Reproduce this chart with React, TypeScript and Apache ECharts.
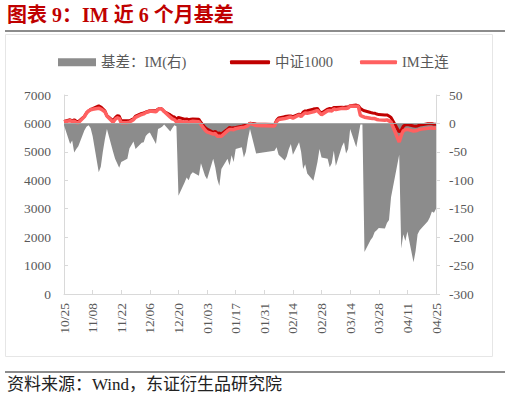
import React, { useEffect, useRef } from "react";
import * as echarts from "echarts";

// ---- data ----
const startDate = [2024, 9, 25]; // 2024-10-25
const calendarDays = 183; // through 2025-04-25

const tradingDates = [
  "10/25", "10/28", "10/29", "10/30", "10/31",
  "11/01", "11/04", "11/05", "11/06", "11/07", "11/08", "11/11", "11/12", "11/13", "11/14", "11/15", "11/18", "11/19", "11/20", "11/21", "11/22", "11/25", "11/26", "11/27", "11/28", "11/29",
  "12/02", "12/03", "12/04", "12/05", "12/06", "12/09", "12/10", "12/11", "12/12", "12/13", "12/16", "12/17", "12/18", "12/19", "12/20", "12/23", "12/24", "12/25", "12/26", "12/27", "12/30", "12/31",
  "01/02", "01/03", "01/06", "01/07", "01/08", "01/09", "01/10", "01/13", "01/14", "01/15", "01/16", "01/17", "01/20", "01/21", "01/22", "01/23", "01/24", "01/27",
  "02/05", "02/06", "02/07", "02/10", "02/11", "02/12", "02/13", "02/14", "02/17", "02/18", "02/19", "02/20", "02/21", "02/24", "02/25", "02/26", "02/27", "02/28",
  "03/03", "03/04", "03/05", "03/06", "03/07", "03/10", "03/11", "03/12", "03/13", "03/14", "03/17", "03/18", "03/19", "03/20", "03/21", "03/24", "03/25", "03/26", "03/27", "03/28", "03/31",
  "04/01", "04/02", "04/03", "04/07", "04/08", "04/09", "04/10", "04/11", "04/14", "04/15", "04/16", "04/17", "04/18", "04/21", "04/22", "04/23", "04/24", "04/25",
];

const basisIM = [
  -3, -36, -30, -51, -45,
  -40, -12, -6, -3, -8, -22, -86, -76, -50, -28, -10, -50, -62, -70, -78, -68, -62, -44, -38, -32, -45,
  -34, -33, -22, -18, -16, -36, -10, -8, -6, -2, -14, -8, -3, -5, -127, -104, -95, -100, -90, -86, -92, -70,
  -92, -98, -62, -77, -98, -110, -80, -62, -74, -56, -68, -45, -42, -60, -50, -27, -10, -53,
  -48, -42, -55, -65, -58, -45, -36, -55, -33, -50, -80, -72, -88, -101, -85, -68, -45, -60,
  -62, -77, -70, -48, -75, -40, -33, -53, -45, -10, -42, -22, -2, -2, -226, -205, -200, -191, -188, -184, -185,
  -175, -170, -130, -55, -220, -195, -207, -190, -244, -225, -195, -188, -184, -172, -165, -155, -157, -150,
];

const csi1000 = [
  6070, 6130, 6095, 6130, 6080,
  6060, 6250, 6370, 6440, 6490, 6520, 6620, 6580, 6510, 6440, 6270, 6095, 6200, 6270, 6260, 6090, 6095, 6090, 6130, 6160, 6260,
  6350, 6370, 6400, 6420, 6450, 6445, 6500, 6530, 6500, 6420, 6300, 6250, 6230, 6150, 6210, 6150, 6160, 6130, 6150, 6160, 6150, 6030,
  5860, 5800, 5685, 5720, 5650, 5660, 5630, 5800, 5860, 5840, 5850, 5860, 5900, 5920, 5940, 5950, 6010, 5980,
  5960, 6110, 6190, 6240, 6250, 6260, 6260, 6240, 6330, 6295, 6400, 6440, 6445, 6505, 6520, 6530, 6420, 6365,
  6505, 6530, 6510, 6560, 6560, 6570, 6560, 6580, 6585, 6620, 6645, 6620, 6530, 6480, 6445, 6385, 6370, 6360, 6330, 6310, 6300,
  6300, 6260, 6210, 5700, 5760, 5900, 5950, 5960, 5910, 5900, 5910, 5940, 5950, 5990, 5990, 5990, 5970, 5975,
];

const imMain = [
  6060, 6095, 6065, 6080, 6035,
  6020, 6240, 6365, 6435, 6480, 6500, 6535, 6505, 6460, 6410, 6260, 6045, 6140, 6200, 6180, 6020, 6035, 6045, 6090, 6130, 6215,
  6315, 6335, 6380, 6400, 6435, 6410, 6490, 6520, 6495, 6420, 6220, 6160, 6135, 6055, 6085, 6045, 6065, 6030, 6060, 6075, 6060, 5960,
  5770, 5700, 5625, 5645, 5550, 5550, 5550, 5740, 5785, 5785, 5780, 5815, 5860, 5860, 5890, 5925, 6000, 5925,
  5910, 6070, 6135, 6175, 6190, 6215, 6225, 6185, 6295, 6245, 6320, 6370, 6355, 6405, 6435, 6460, 6375, 6305,
  6445, 6455, 6440, 6510, 6485, 6530, 6525, 6525, 6540, 6610, 6600, 6600, 6280, 6250, 6220, 6180, 6170, 6170, 6140, 6125, 6115,
  6125, 6090, 6050, 5345, 5580, 5740, 5780, 5790, 5730, 5740, 5760, 5790, 5800, 5830, 5840, 5840, 5830, 5835,
];

const seriesNames = ["基差：IM(右)", "中证1000", "IM主连"];
const titleText = "图表 9：IM 近 6 个月基差";
const sourceText = "资料来源：Wind，东证衍生品研究院";

// ---- helpers ----
const pad = (n: number) => (n < 10 ? "0" + n : "" + n);
const categories: string[] = [];
for (let i = 0; i < calendarDays; i++) {
  const d = new Date(startDate[0], startDate[1], startDate[2] + i);
  categories.push(pad(d.getMonth() + 1) + "/" + pad(d.getDate()));
}
const pairs = (vals: number[]) => tradingDates.map((t, i) => [t, vals[i]]);

const FONT = "'Liberation Serif', 'Noto Sans CJK SC', serif";
const LABEL_COLOR = "#595959";
const AXIS_COLOR = "#d9d9d9";
const plain = (v: number) => String(v);

export default function App() {
  const ref = useRef<HTMLDivElement>(null);
  useEffect(() => {
    if (!ref.current) return;
    const chart = echarts.init(ref.current, null, { renderer: "svg" });
    chart.setOption({
      animation: false,
      backgroundColor: "#ffffff",
      textStyle: { fontFamily: FONT },
      grid: { left: 64, right: 74, top: 95, bottom: 106 },
      legend: [
        {
          data: [seriesNames[0]],
          left: 53,
          top: 50,
          icon: "rect",
          itemWidth: 38,
          itemHeight: 8,
          textStyle: { color: LABEL_COLOR, fontSize: 14.5, fontFamily: FONT },
        },
        {
          data: [seriesNames[1]],
          left: 225,
          top: 50,
          icon: "roundRect",
          itemWidth: 40,
          itemHeight: 4,
          textStyle: { color: LABEL_COLOR, fontSize: 14.5, fontFamily: FONT },
        },
        {
          data: [seriesNames[2]],
          left: 355,
          top: 50,
          icon: "roundRect",
          itemWidth: 37,
          itemHeight: 4,
          textStyle: { color: LABEL_COLOR, fontSize: 14.5, fontFamily: FONT },
        },
      ],
      xAxis: {
        type: "category",
        data: categories,
        boundaryGap: false,
        axisLine: { lineStyle: { color: AXIS_COLOR } },
        axisTick: { show: true, interval: 13, inside: true, length: 4, lineStyle: { color: AXIS_COLOR } },
        axisLabel: {
          interval: 13,
          rotate: 90,
          color: LABEL_COLOR,
          fontSize: 13.5,
          fontFamily: FONT,
          margin: 9,
        },
        splitLine: { show: false },
      },
      yAxis: [
        {
          type: "value",
          position: "left",
          min: 0,
          max: 7000,
          interval: 1000,
          axisLine: { show: true, lineStyle: { color: AXIS_COLOR } },
          axisTick: { show: true, inside: true, length: 4, lineStyle: { color: AXIS_COLOR } },
          axisLabel: { color: LABEL_COLOR, fontSize: 13.5, fontFamily: FONT, margin: 13, formatter: plain },
          splitLine: { show: false },
        },
        {
          type: "value",
          position: "right",
          min: -300,
          max: 50,
          interval: 50,
          axisLine: { show: true, lineStyle: { color: AXIS_COLOR } },
          axisTick: { show: true, length: 4, lineStyle: { color: AXIS_COLOR } },
          axisLabel: { color: LABEL_COLOR, fontSize: 13.5, fontFamily: FONT, margin: 13, formatter: plain },
          splitLine: { show: false },
        },
      ],
      series: [
        {
          name: seriesNames[0],
          type: "line",
          yAxisIndex: 1,
          data: pairs(basisIM),
          symbol: "none",
          itemStyle: { color: "#8c8c8c" },
          lineStyle: { width: 0, color: "#8c8c8c" },
          areaStyle: { color: "#8c8c8c", opacity: 1 },
          markLine: {
            silent: true,
            symbol: "none",
            label: { show: false },
            lineStyle: { color: "#a6a6a6", width: 1, type: "solid" },
            data: [{ yAxis: 0 }],
          },
        },
        {
          name: seriesNames[1],
          type: "line",
          yAxisIndex: 0,
          data: pairs(csi1000),
          symbol: "none",
          itemStyle: { color: "#c00000" },
          lineStyle: { color: "#c00000", width: 3 },
        },
        {
          name: seriesNames[2],
          type: "line",
          yAxisIndex: 0,
          data: pairs(imMain),
          symbol: "none",
          itemStyle: { color: "#ff6060" },
          lineStyle: { color: "#ff6060", width: 3.5 },
        },
      ],
      graphic: [
        {
          type: "text",
          left: 7,
          top: 5,
          style: {
            text: titleText,
            fill: "#c00000",
            fontSize: 20,
            fontWeight: "bold",
            fontFamily: FONT,
          },
        },
        {
          type: "line",
          shape: { x1: 5, y1: 31, x2: 505, y2: 31 },
          style: { stroke: "#666666", lineWidth: 1.5 },
        },
        {
          type: "rect",
          shape: { x: 5.5, y: 34.5, width: 487, height: 322 },
          style: { fill: "none", stroke: "#e6e6e6", lineWidth: 1 },
          silent: true,
        },
        {
          type: "line",
          shape: { x1: 5, y1: 372, x2: 505, y2: 372 },
          style: { stroke: "#666666", lineWidth: 1.5 },
        },
        {
          type: "text",
          left: 7,
          top: 376,
          style: {
            text: sourceText,
            fill: "#222222",
            fontSize: 17,
            fontFamily: FONT,
          },
        },
      ],
    });
    return () => chart.dispose();
  }, []);
  return (
    <div
      ref={ref}
      style={{ position: "fixed", left: 0, top: 0, width: 510, height: 400, background: "#fff" }}
    />
  );
}
